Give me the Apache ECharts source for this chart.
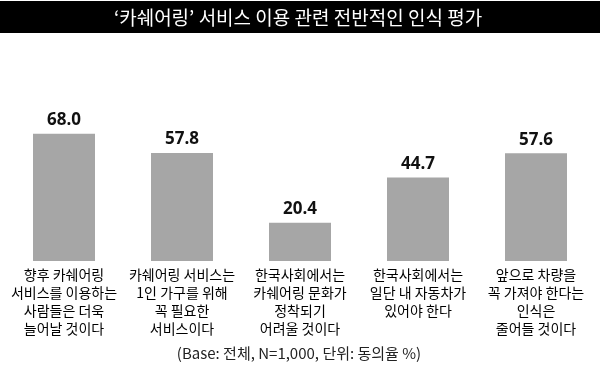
<!DOCTYPE html>
<html><head><meta charset="utf-8">
<script src="https://cdn.jsdelivr.net/npm/echarts@6/dist/echarts.min.js"></script>
<style>html,body{margin:0;padding:0;background:#fff}#c{width:600px;height:379px}</style>
</head><body><div id="c"></div>
<script>
const titleText = '‘카쉐어링’ 서비스 이용 관련 전반적인 인식 평가';
const noteText = '(Base: 전체, N=1,000, 단위: 동의율 %)';
const categories = [
  '향후 카쉐어링\n서비스를 이용하는\n사람들은 더욱\n늘어날 것이다',
  '카쉐어링 서비스는\n1인 가구를 위해\n꼭 필요한\n서비스이다',
  '한국사회에서는\n카쉐어링 문화가\n정착되기\n어려울 것이다',
  '한국사회에서는\n일단 내 자동차가\n있어야 한다',
  '앞으로 차량을\n꼭 가져야 한다는\n인식은\n줄어들 것이다'
];
const values = [68.0, 57.8, 20.4, 44.7, 57.6];

const KR = '"Noto Sans CJK KR", "Noto Sans", sans-serif';
const chart = echarts.init(document.getElementById('c'), null, {renderer: 'canvas'});
chart.setOption({
  animation: false,
  backgroundColor: '#fff',
  grid: {left: 5, right: 5, top: 74, bottom: 118, containLabel: false},
  xAxis: {
    type: 'category', data: categories,
    axisLine: {show: false}, axisTick: {show: false},
    axisLabel: {interval: 0, margin: 5, fontSize: 14, lineHeight: 18, color: '#000', fontFamily: KR}
  },
  yAxis: {type: 'value', min: 0, max: 100, show: false, splitLine: {show: false}},
  series: [{
    type: 'bar', data: values, barWidth: 62,
    itemStyle: {color: '#a6a6a6'},
    label: {show: true, position: 'top', distance: 5, fontSize: 17, fontWeight: 'bold', color: '#111',
      fontFamily: '"Open Sans", sans-serif', formatter: p => p.value.toFixed(1)}
  }],
  graphic: [
    {type: 'rect', shape: {x: 0, y: 1, width: 600, height: 32}, style: {fill: '#000'}},
    {type: 'text', x: 298, y: 18, style: {text: titleText, fill: '#fff', fontSize: 19, fontFamily: KR, textAlign: 'center', textVerticalAlign: 'middle'}},
    {type: 'text', x: 299, y: 353, style: {text: noteText, fill: '#222', fontSize: 15, fontFamily: KR, textAlign: 'center', textVerticalAlign: 'middle'}}
  ]
});
</script></body></html>
